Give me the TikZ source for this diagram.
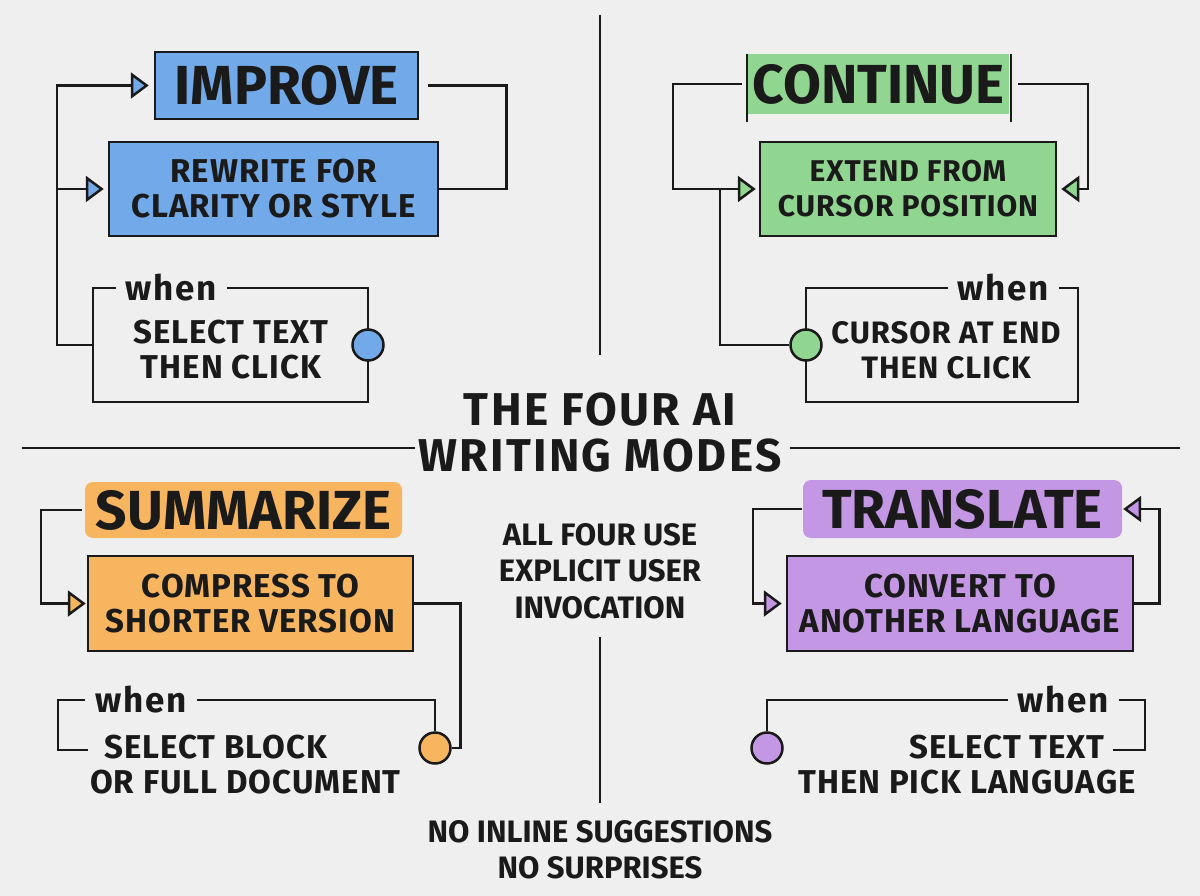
\documentclass[tikz,border=0pt]{standalone}
\usepackage{fontspec}
\setmainfont{Fira Sans}
\newfontfamily\spacedA[LetterSpace=3]{Fira Sans}
\newfontfamily\spacedB[LetterSpace=5]{Fira Sans}
\usetikzlibrary{arrows.meta,calc}
\definecolor{bg}{HTML}{EFEFEF}
\definecolor{ink}{HTML}{1A1A1A}
\definecolor{cblue}{HTML}{72A9E8}
\definecolor{cgreen}{HTML}{90D690}
\definecolor{corange}{HTML}{F7B560}
\definecolor{cpurple}{HTML}{C497E5}
\newcommand\fLab{\fontsize{55}{60}\selectfont\bfseries}
\newcommand\fBox{\spacedA\fontsize{33}{35}\selectfont\bfseries}
\newcommand\fBoxS{\spacedA\fontsize{30}{35}\selectfont\bfseries}
\newcommand\fBoxM{\spacedA\fontsize{31}{35}\selectfont\bfseries}
\newcommand\fMid{\fontsize{31}{36.5}\selectfont\bfseries}
\newcommand\fTitle{\spacedB\fontsize{46}{46}\selectfont\bfseries}
\newcommand\fWhen{\spacedB\fontsize{35}{36}\selectfont\bfseries}
\begin{document}
\begin{tikzpicture}[x=1pt,y=-1pt,
  ln/.style={draw=ink,line width=2.5pt,line join=miter},
  arrB/.style={-{Triangle[length=18pt,width=26pt,fill=#1]}},
  boxn/.style={ln,font=\fBox,text=ink,align=center,inner sep=0},
  labn/.style={font=\fLab,text=ink,inner sep=0},
  txt/.style={font=\fBox,text=ink,align=center,inner sep=0},
  whenlab/.style={font=\fWhen,text=ink,fill=bg,inner xsep=10pt,inner ysep=2pt},
  frame/.style={ln,inner sep=0},
  dot/.style={circle,ln,fill=#1,minimum size=31pt,inner sep=0}
]
\fill[bg] (0,0) rectangle (1200,896);
\useasboundingbox (0,0) rectangle (1200,896);

% ---------- Quadrant 1: IMPROVE ----------
\node[labn,ln,fill=cblue,minimum width=263pt,minimum height=67pt] (imp) at (286.5,85.5) {IMPROVE};
\node[boxn,fill=cblue,minimum width=329pt,minimum height=94pt] (rew) at (273.5,189) {REWRITE FOR\\CLARITY OR STYLE};
\draw[ln] ([xshift=9pt]imp.east) -- ++(78,0) |- (rew.east);
\node[frame,minimum width=275pt,minimum height=114pt] (wf1) at (230.5,345) {};
\node[whenlab] (wh1) at (171.5,288) {when};
\node[txt] (wt1) at (231,350) {SELECT TEXT\\THEN CLICK};
\node[dot=cblue] (c1) at (368,345) {};
\draw[ln,arrB=cblue] (wf1.west) -- ++(-35,0) coordinate (j1) |- ([xshift=-5pt]imp.west);
\draw[ln,arrB=cblue] (j1 |- rew.west) -- ([xshift=-4pt]rew.west);

% ---------- Quadrant 2: CONTINUE ----------
\node[labn,fill=cgreen,minimum width=261pt,minimum height=60pt] (con) at (878.5,84) {CONTINUE};
\draw[ln] ([xshift=-1pt]con.north west) -- ++(0,68);
\draw[ln] ([xshift=2pt]con.north east) -- ++(0,68);
\node[boxn,font=\fBoxS,fill=cgreen,minimum width=296pt,minimum height=94pt] (ext) at (908,189) {EXTEND FROM\\CURSOR POSITION};
\draw[ln,arrB=cgreen] ([xshift=-6pt]con.west) -- ++(-69,0) |- ([xshift=-3pt]ext.west);
\draw[ln,arrB=cgreen] ([xshift=9pt]con.east) -- ++(70,0) |- ([xshift=4pt]ext.east);
\node[frame,minimum width=272pt,minimum height=114pt] (wf2) at (942,345) {};
\node[whenlab] (wh2) at (1003.5,288) {when};
\node[txt,font=\fBoxM] (wt2) at (946,350) {CURSOR AT END\\THEN CLICK};
\node[dot=cgreen] (c2) at (806,345) {};
\draw[ln] (c2.west) -| ([xshift=-39pt]ext.west);

% ---------- Centre ----------
\draw[ln] (600,15) -- (600,355);
\node[font=\fTitle,text=ink,align=center,inner sep=0] (ttl) at (600,433) {THE FOUR AI\\WRITING MODES};
\draw[ln] (22,448) -- (415,448);
\draw[ln] (790,448) -- (1180,448);
\node[txt,font=\fMid] (all) at (600,571) {ALL FOUR USE\\EXPLICIT USER\\INVOCATION};
\draw[ln] (600,637) -- (600,803);
\node[txt,font=\fMid] (nos) at (600,850) {NO INLINE SUGGESTIONS\\NO SURPRISES};

% ---------- Quadrant 3: SUMMARIZE ----------
\node[labn,fill=corange,rounded corners=8pt,minimum width=317pt,minimum height=56pt] (sum) at (243.5,510) {SUMMARIZE};
\node[boxn,fill=corange,minimum width=325pt,minimum height=95pt] (com) at (250.5,603.5) {COMPRESS TO\\SHORTER VERSION};
\draw[ln,arrB=corange] ([xshift=-3pt]sum.west) -- ++(-41,0) |- ([xshift=-1pt]com.west);
\node[dot=corange] (c3) at (435,748) {};
\draw[ln] (com.east) -- ++(46,0) |- (c3.east);
\draw[ln] (c3.north) |- (58,700) |- (88,750);
\node[whenlab] (wh3) at (141,700) {when};
\node[txt,anchor=west] (wt3a) at (104,747) {SELECT BLOCK};
\node[txt,anchor=west] (wt3b) at (90,782) {OR FULL DOCUMENT};

% ---------- Quadrant 4: TRANSLATE ----------
\node[labn,fill=cpurple,rounded corners=8pt,minimum width=319pt,minimum height=58pt] (tra) at (962.5,509) {TRANSLATE};
\node[boxn,fill=cpurple,minimum width=346pt,minimum height=95pt] (cvt) at (960,603.5) {CONVERT TO\\ANOTHER LANGUAGE};
\draw[ln,arrB=cpurple] ([xshift=-1pt]tra.west) -- ++(-49,0) |- ([xshift=-4pt]cvt.west);
\draw[ln,arrB=cpurple] (cvt.east) -- ++(25,0) |- ([xshift=1pt]tra.east);
\node[dot=cpurple] (c4) at (767,748) {};
\draw[ln] (c4.north) |- (1145,700) |- (1113,750);
\node[whenlab] (wh4) at (1063.5,700) {when};
\node[txt,anchor=east] (wt4a) at (1105,747) {SELECT TEXT};
\node[txt] (wt4b) at (967,782) {THEN PICK LANGUAGE};
\end{tikzpicture}
\end{document}
